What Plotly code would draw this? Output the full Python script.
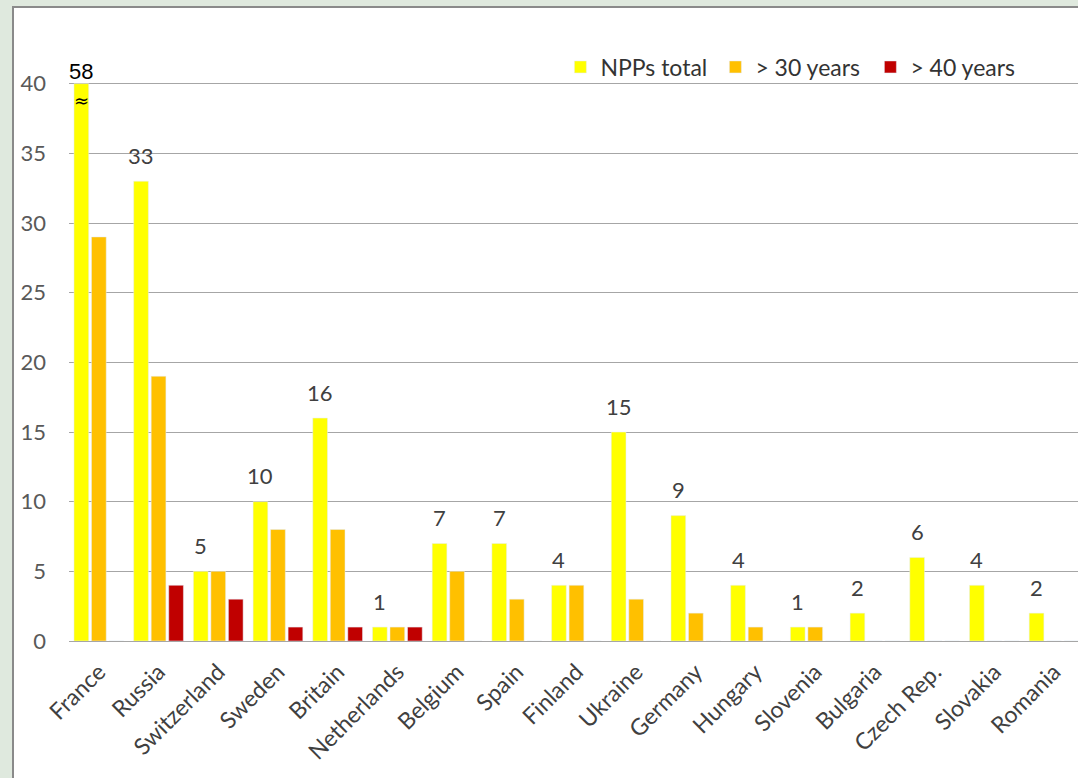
import plotly.graph_objects as go

countries = ["France", "Russia", "Switzerland", "Sweden", "Britain", "Netherlands",
             "Belgium", "Spain", "Finland", "Ukraine", "Germany", "Hungary",
             "Slovenia", "Bulgaria", "Czech Rep.", "Slovakia", "Romania"]
npps_total = [58, 33, 5, 10, 16, 1, 7, 7, 4, 15, 9, 4, 1, 2, 6, 4, 2]
over_30 = [29, 19, 5, 8, 8, 1, 5, 3, 4, 3, 2, 1, 1, 0, 0, 0, 0]
over_40 = [0, 4, 3, 1, 1, 1, 0, 0, 0, 0, 0, 0, 0, 0, 0, 0, 0]
y_cap = 40  # France's bar is broken at 40 (value 58)
y_ticks = [0, 5, 10, 15, 20, 25, 30, 35, 40]

YELLOW, ORANGE, RED = "#FFFF00", "#FFC000", "#C00000"
FONT = "Lato"
W, H = 1078, 778
ML, MR, MT, MB = 69, 0, 14, 137

idx = list(range(len(countries)))
shown_total = [min(v, y_cap) for v in npps_total]

fig = go.Figure()
fig.add_trace(go.Bar(x=idx, y=shown_total, name="NPPs total", marker_color=YELLOW))
fig.add_trace(go.Bar(x=idx, y=over_30, name="> 30 years", marker_color=ORANGE))
fig.add_trace(go.Bar(x=idx, y=over_40, name="> 40 years", marker_color=RED))

bargap, groupgap = 0.12, 0.16
slot = (1 - bargap) / 3.0  # width of each series slot in data units

annotations = []
for i, v in enumerate(npps_total):
    if v > y_cap:
        annotations.append(dict(x=i - slot, y=y_cap, text=str(v), showarrow=False,
                                yanchor="middle", yshift=12,
                                font=dict(family="Liberation Sans", size=22, color="#000000")))
        annotations.append(dict(x=i - slot, y=y_cap, text="≈", showarrow=False,
                                yanchor="middle", yshift=-17,
                                font=dict(family="DejaVu Sans", size=18, color="#000000")))
    else:
        annotations.append(dict(x=i - slot, y=v, text=str(v), showarrow=False,
                                yanchor="middle", yshift=26,
                                font=dict(family=FONT, size=22, color="#404040")))

plot_w = W - ML - MR
plot_h = H - MT - MB
px_per_unit = 59.7
x_right = -0.5 + plot_w / px_per_unit

# white panel with gray border behind the chart
shapes = [dict(type="rect", xref="paper", yref="paper",
               x0=(13 - ML) / plot_w, x1=1.05, y0=-0.3, y1=(H - MB - 7) / plot_h,
               fillcolor="white", line=dict(color="#8a8a8a", width=2), layer="below")]

fig.update_layout(
    width=W, height=H,
    margin=dict(l=ML, r=MR, t=MT, b=MB, pad=0, autoexpand=False),
    paper_bgcolor="#dfe9de",
    plot_bgcolor="rgba(0,0,0,0)",
    barmode="group", bargap=bargap, bargroupgap=groupgap,
    font=dict(family=FONT, color="#404040"),
    shapes=shapes,
    annotations=annotations,
    showlegend=True,
    legend=dict(orientation="h", x=0.487, xanchor="left", y=(H - MB - 67) / plot_h,
                yanchor="middle", bgcolor="rgba(0,0,0,0)",
                font=dict(family=FONT, size=23, color="#333333"),
                entrywidth=110, entrywidthmode="pixels", traceorder="normal"),
    xaxis=dict(range=[-0.5, x_right], tickmode="array", tickvals=idx, ticktext=countries,
               tickangle=-45, tickfont=dict(family=FONT, size=23, color="#404040"),
               ticklabelstandoff=12,
               showgrid=False, zeroline=False, showline=False, ticks="", automargin=False),
    yaxis=dict(range=[0, 45], tickmode="array", tickvals=y_ticks,
               tickfont=dict(family=FONT, size=22, color="#595959"),
               showgrid=True, gridcolor="#a6a6a6", gridwidth=1,
               zeroline=True, zerolinecolor="#a6a6a6", zerolinewidth=1,
               showline=False, ticks="", ticklabelstandoff=22, automargin=False),
)

fig.write_html("out.html")
